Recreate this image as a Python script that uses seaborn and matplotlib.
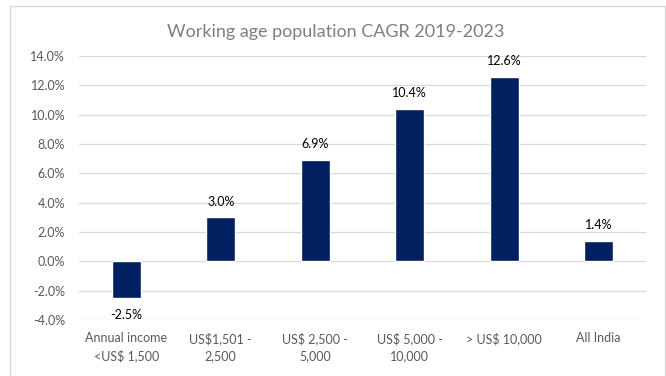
import matplotlib
matplotlib.use("Agg")
import matplotlib.pyplot as plt
from matplotlib.patches import Rectangle
from matplotlib.ticker import FuncFormatter, MultipleLocator
import seaborn as sns
import pandas as pd

categories = ["Annual income\n<US$ 1,500", "US$1,501 -\n2,500", "US$ 2,500 -\n5,000",
              "US$ 5,000 -\n10,000", "> US$ 10,000", "All India"]
cagr = [-2.5, 3.0, 6.9, 10.4, 12.6, 1.4]
title = "Working age population CAGR 2019-2023"

sns.set_theme(style="white")
plt.rcParams["font.family"] = ["Lato", "DejaVu Sans"]

df = pd.DataFrame({"band": categories, "cagr": cagr})

fig = plt.figure(figsize=(6.66, 3.76), dpi=100)
ax = fig.add_axes([79 / 666, 1 - 320 / 376, (646 - 79) / 666, (320 - 56) / 376])

sns.barplot(data=df, x="band", y="cagr", color="#002060", width=0.31,
            saturation=1, ax=ax, zorder=3)

ax.set_ylim(-4, 14)
ax.yaxis.set_major_locator(MultipleLocator(2))
ax.yaxis.set_major_formatter(FuncFormatter(lambda v, p: f"{v:.1f}%"))
ax.grid(axis="y", color="#d9d9d9", linewidth=0.9, zorder=0)
ax.set_axisbelow(True)
for s in ax.spines.values():
    s.set_visible(False)
ax.set_xlabel("")
ax.set_ylabel("")
ax.tick_params(axis="both", length=0, labelsize=9, colors="#595959")
ax.tick_params(axis="x", pad=9)
ax.tick_params(axis="y", pad=10)
for lbl in ax.get_xticklabels():
    lbl.set_linespacing(1.45)
ax.set_xlim(-0.5, len(categories) - 0.5)

for i, v in enumerate(cagr):
    if v >= 0:
        ax.annotate(f"{v:.1f}%", (i, v), xytext=(0, 7), textcoords="offset points",
                    ha="center", va="bottom", fontsize=9, color="#000000")
    else:
        ax.annotate(f"{v:.1f}%", (i, v), xytext=(0, -8), textcoords="offset points",
                    ha="center", va="top", fontsize=9, color="#000000")

fig.text(336 / 666, 1 - 32 / 376, title, ha="center", va="center",
         fontsize=13, color="#7f7f7f")

fig.patches.append(Rectangle((10 / 666, -0.01), (665 - 10) / 666, 1 - 6 / 376 + 0.01,
                             transform=fig.transFigure, fill=False,
                             edgecolor="#d9d9d9", linewidth=1.0))

fig.savefig("out.png", dpi=100)
